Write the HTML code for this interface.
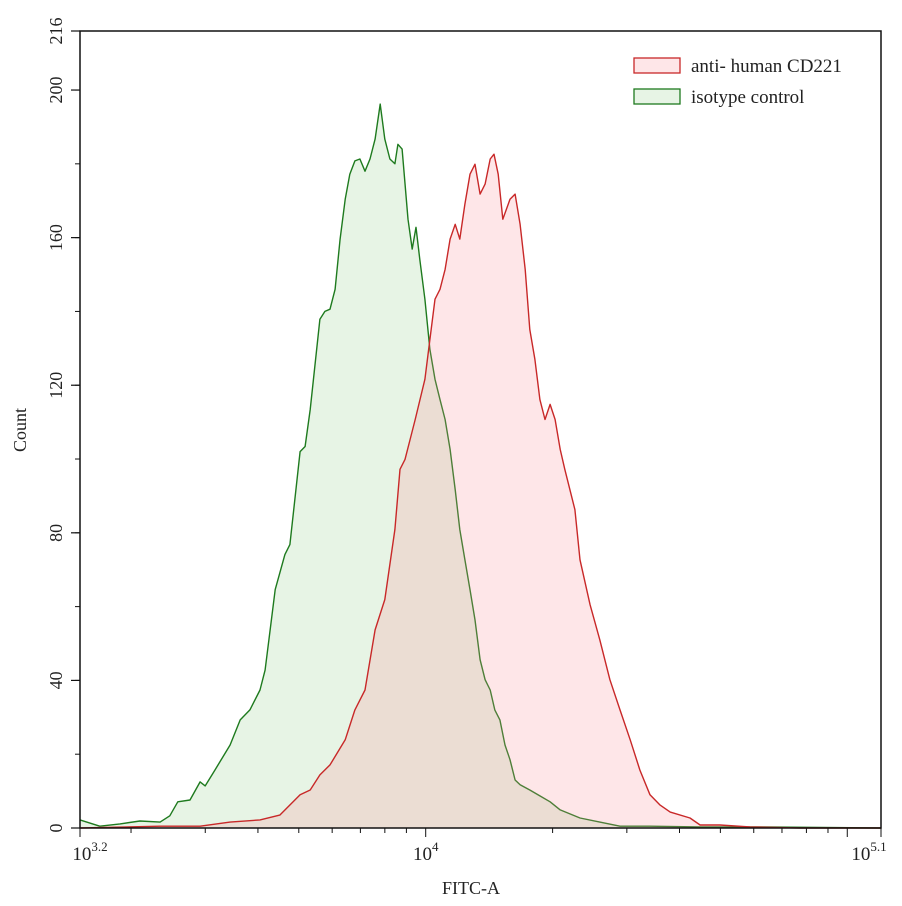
<!DOCTYPE html>
<html><head><meta charset="utf-8"><style>
html,body{margin:0;padding:0;background:#fff;}
svg{display:block;font-family:"Liberation Serif",serif;}
</style></head><body>
<svg id="chart" width="902" height="906" viewBox="0 0 902 906"></svg>
<script>
const greenX=[3.2,3.247,3.295,3.342,3.39,3.413,3.432,3.461,3.485,3.497,3.52,3.556,3.58,3.603,3.627,3.639,3.663,3.686,3.698,3.722,3.734,3.746,3.769,3.781,3.793,3.805,3.817,3.829,3.84,3.852,3.864,3.876,3.888,3.9,3.912,3.923,3.935,3.947,3.954,3.964,3.978,3.988,3.997,4.006,4.018,4.03,4.042,4.054,4.066,4.078,4.09,4.101,4.113,4.125,4.137,4.149,4.161,4.173,4.184,4.196,4.208,4.22,4.232,4.244,4.267,4.291,4.315,4.339,4.386,4.433,4.481,4.552,4.671,4.789,5.1];
const greenY=[2.2,0.5,1.1,1.9,1.6,3.3,7.1,7.6,12.5,11.4,15.7,22.5,29.3,32,37.4,42.8,64.6,74.1,76.8,102,103.4,113.4,137.9,140,140.6,146,159.6,170.4,177.2,180.8,181.3,178,181.3,186.7,196.2,186.7,181.3,180,185.3,184,165,156.9,162.8,154.1,143.3,129.7,121.6,116.1,110.7,102.6,91.7,80.9,72.7,64.6,56.4,45.6,40.2,37.4,32,29.3,22.5,18.5,13,11.7,10.3,8.7,7.1,4.9,2.7,1.6,0.5,0.5,0.3,0.3,0];
const redX=[3.2,3.39,3.485,3.556,3.627,3.674,3.722,3.746,3.769,3.793,3.829,3.852,3.876,3.9,3.923,3.947,3.959,3.971,3.983,3.995,4.018,4.03,4.042,4.054,4.066,4.078,4.09,4.101,4.113,4.125,4.137,4.149,4.161,4.173,4.182,4.192,4.203,4.22,4.232,4.244,4.256,4.267,4.279,4.291,4.303,4.315,4.327,4.339,4.35,4.374,4.386,4.41,4.433,4.457,4.481,4.505,4.528,4.552,4.576,4.6,4.647,4.671,4.718,4.789,4.908,5.1];
const redY=[0,0.5,0.5,1.6,2.2,3.5,9,10.3,14.4,17.1,23.9,32,37.4,53.7,61.9,80.9,97.2,99.9,105.3,110.7,121.6,132.4,143.3,146,151.4,159.6,163.6,159.6,169.1,177.2,179.9,171.8,174.5,181.3,182.6,177.2,165,170.4,171.8,163.6,151.4,135.1,127,116.1,110.7,114.8,110.7,102.6,97.2,86.3,72.7,60.5,51,40.2,32,23.9,15.7,9,6.2,4.3,2.7,0.8,0.8,0.3,0,0];
const yTicks=[0,40,80,120,160,200,216];
const seriesNames=["anti- human CD221","isotype control"];

const svg=document.getElementById('chart');
const NS='http://www.w3.org/2000/svg';
const L=80,R=881,T=31,B=828;
const xs=v=>L+(v-3.2)/1.9*(R-L);
const ys=v=>B-v/216*(B-T);
function mk(tag,attrs,parent){const e=document.createElementNS(NS,tag);for(const k in attrs)e.setAttribute(k,attrs[k]);(parent||svg).appendChild(e);return e;}

function area(X,Y,fill,stroke,name){
  let d='M'+xs(X[0])+','+ys(0);
  for(let i=0;i<X.length;i++)d+=' L'+xs(X[i]).toFixed(1)+','+ys(Y[i]).toFixed(1);
  d+=' L'+xs(X[X.length-1])+','+ys(0)+' Z';
  const a=mk('path',{d:d,fill:fill,stroke:'none'});
  
  
  let d2='M'+xs(X[0]).toFixed(1)+','+ys(Y[0]).toFixed(1);
  for(let i=1;i<X.length;i++)d2+=' L'+xs(X[i]).toFixed(1)+','+ys(Y[i]).toFixed(1);
  const l=mk('path',{d:d2,fill:'none',stroke:stroke,'stroke-width':1.4,'stroke-linejoin':'round'});
  
  
}
area(greenX,greenY,'rgba(170,215,160,0.28)','#1e7a1e','isotype-control-series');
area(redX,redY,'rgba(250,140,150,0.22)','#c82828','cd221-series');

const fr=mk('rect',{x:L,y:T,width:R-L,height:B-T,fill:'none',stroke:'#111','stroke-width':1.5});



for(let v=0;v<=216;v+=20){mk('line',{x1:L-5,x2:L,y1:ys(v),y2:ys(v),stroke:'#111','stroke-width':1});}
yTicks.forEach(v=>{
  mk('line',{x1:L-9,x2:L,y1:ys(v),y2:ys(v),stroke:'#111','stroke-width':1.2});
  const t=mk('text',{x:0,y:0,transform:'translate(62,'+ys(v)+') rotate(-90)','text-anchor':'middle','font-size':18,fill:'#222'});
  t.textContent=v;
  
  
});
const off=0.02;
for(let dec=3;dec<=5;dec++){for(let m=1;m<10;m++){const lv=dec+Math.log10(m)+off;if(lv<3.2||lv>5.1)continue;
  mk('line',{x1:xs(lv),x2:xs(lv),y1:B,y2:B+(m===1?9:5),stroke:'#111','stroke-width':1});}}
mk('line',{x1:L,x2:L,y1:B,y2:B+9,stroke:'#111'});
mk('line',{x1:R,x2:R,y1:B,y2:B+9,stroke:'#111'});
[[3.2,'3.2'],[4+off,'4'],[5.1,'5.1']].forEach(([v,e])=>{
  const t=mk('text',{x:xs(v)-(v===5.1?12:(v===3.2?-10:0)),y:860,'text-anchor':'middle','font-size':19,fill:'#222'});
  t.innerHTML='10<tspan dy="-9" font-size="13">'+e+'</tspan>';
  
  
});
const xt=mk('text',{x:471,y:894,'text-anchor':'middle','font-size':18,fill:'#222'});xt.textContent='FITC-A';


const yt=mk('text',{x:0,y:0,transform:'translate(26,430) rotate(-90)','text-anchor':'middle','font-size':18,fill:'#222'});yt.textContent='Count';



[[58,'rgba(250,140,150,0.22)','#c82828'],[89,'rgba(170,215,160,0.28)','#1e7a1e']].forEach((s,i)=>{
  const g=mk('g',{});
  
  
  mk('rect',{x:634,y:s[0],width:46,height:15,fill:s[1],stroke:s[2],'stroke-width':1.3},g);
  const t=mk('text',{x:691,y:s[0]+14,'font-size':19,fill:'#222'},g);t.textContent=seriesNames[i];
});
</script>
</body></html>
